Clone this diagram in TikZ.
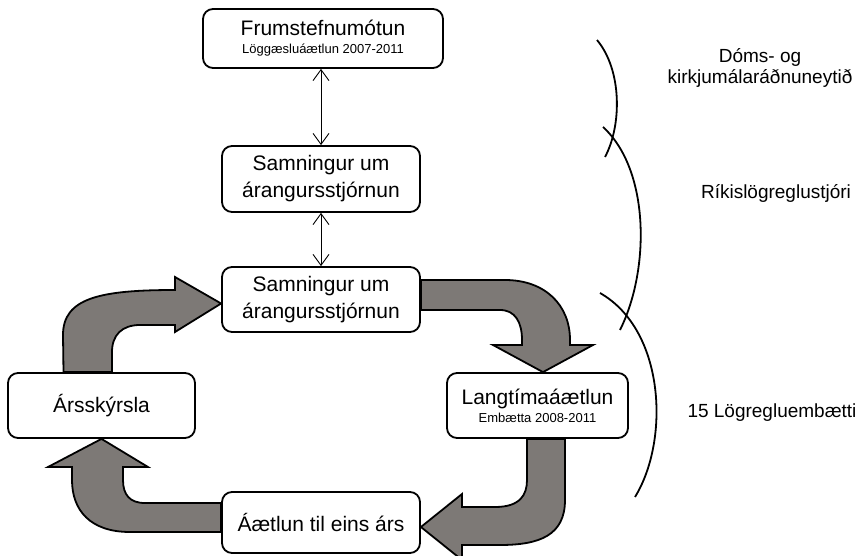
\documentclass[tikz,border=0pt]{standalone}
\usepackage{fontspec}
\setmainfont{Liberation Sans}
\usetikzlibrary{arrows.meta}
\definecolor{flowgray}{RGB}{125,121,118}
\tikzset{
  stage/.style={draw, line width=1.8pt, rounded corners=10pt, fill=white, align=center, inner sep=0pt, font=\fontsize{21}{27}\selectfont},
  flow/.style={draw, line width=1.8pt, fill=flowgray},
  link/.style={line width=0.9pt, {Straight Barb[length=11pt,width=16pt]}-{Straight Barb[length=11pt,width=16pt]}},
  brace/.style={line width=1.8pt},
  level/.style={align=center, font=\fontsize{19}{21}\selectfont},
}
\newcommand{\subline}[1]{{\fontsize{13}{15}\selectfont #1}}

\begin{document}
\begin{tikzpicture}[x=1pt,y=-1pt]
\useasboundingbox (0,0) rectangle (859,556);

\node[stage, minimum width=240pt, minimum height=59pt] (frum) at (323,38.5) {Frumstefnumótun\\[-9pt]\subline{Löggæsluáætlun 2007-2011}};
\node[stage, minimum width=198pt, minimum height=66pt] (samnA) at (321,179) {Samningur um\\árangursstjórnun};
\node[stage, minimum width=198pt, minimum height=65pt] (samnB) at (321,299.5) {Samningur um\\árangursstjórnun};
\node[stage, minimum width=187pt, minimum height=65pt] (ars) at (101.5,405.5) {Ársskýrsla};
\node[stage, minimum width=181pt, minimum height=65pt] (lang) at (537.5,405.5) {Langtímaáætlun\\[-9pt]\subline{Embætta 2008-2011}};
\node[stage, minimum width=198pt, minimum height=61pt] (arsplan) at (321,522.5) {Áætlun til eins árs};

\draw[link] (samnA.north) -- (samnA.north |- frum.south);
\draw[link] (samnA.south) -- (samnB.north);

% cycle
\filldraw[flow] ([xshift=-38pt]ars.north) -- (63,335) .. controls (63,298) and (100,290) .. (175,290) -- (175,277) -- ([yshift=-4pt]samnB.west) -- (175,332) -- (175,325) -- (140,325) .. controls (122,325) and (112,335) .. (112,352) -- ([xshift=10.5pt]ars.north) -- cycle;
\filldraw[flow] ([yshift=19.5pt]samnB.east) -- (505,280) .. controls (545,280) and (570,305) .. (570,340) -- (570,345) -- (593,345) -- ([xshift=5.5pt]lang.north) -- (493,345) -- (522,345) -- (522,340) .. controls (522,322) and (515,310) .. (500,310) -- ([yshift=-10.5pt]samnB.east) -- cycle;
\filldraw[flow] ([xshift=27.5pt]lang.south) -- (565,500) .. controls (565,535) and (540,545) .. (500,545) -- (462,545) -- (462,560) -- ([yshift=-4.5pt]arsplan.east) -- (462,494) -- (462,507) -- (495,507) .. controls (520,507) and (527,495) .. (527,480) -- ([xshift=-10.5pt]lang.south) -- cycle;
\filldraw[flow] ([yshift=-9.5pt]arsplan.west) -- (130,532) .. controls (90,532) and (72,510) .. (72,480) -- (72,467) -- (48,467) -- (ars.south) -- (148,467) -- (123,467) -- (123,480) .. controls (123,495) and (130,503) .. (145,503) -- ([yshift=19.5pt]arsplan.west) -- cycle;

% levels
\draw[brace] (597,40) .. controls (622,70) and (622,125) .. (605,157);
\draw[brace] (603,127) .. controls (650,170) and (650,270) .. (620,330);
\draw[brace] (600,293) .. controls (665,330) and (670,440) .. (635,497);
\node[level] (raduneyti) at (760,67.5) {Dóms- og\\kirkjumálaráðnuneytið};
\node[level] (rls) at (776,193) {Ríkislögreglustjóri};
\node[level] (embaetti) at (772,413) {15 Lögregluembætti};
\end{tikzpicture}
\end{document}
